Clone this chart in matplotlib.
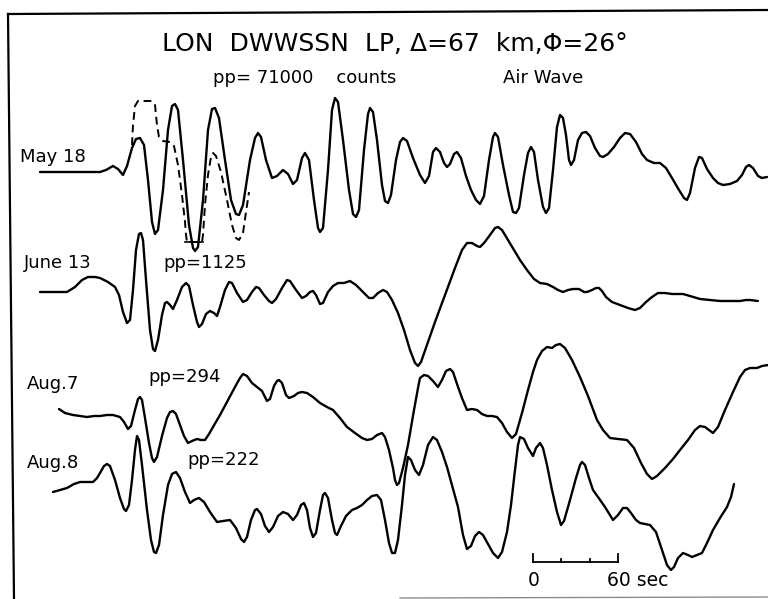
import matplotlib
matplotlib.use("Agg")
import matplotlib.pyplot as plt

may18_x = [40, 100, 106, 113, 118, 123, 127, 132, 136, 140, 144, 148, 152, 155, 158, 163, 168, 172, 175, 178,
           183, 189, 193, 195, 198, 203, 208, 212, 215, 219, 225, 231, 236, 239, 243, 250, 255, 258, 261, 266,
           272, 277, 283, 288, 293, 297, 302, 305, 309, 314, 318, 320, 323, 328, 332, 335, 338, 343, 349, 353,
           356, 359, 364, 368, 370, 373, 377, 382, 385, 388, 391, 396, 400, 403, 407, 413, 420, 425, 429, 433,
           436, 440, 444, 447, 450, 454, 457, 461, 466, 471, 476, 480, 484, 489, 493, 495, 498, 503, 509, 513,
           516, 519, 524, 528, 531, 534, 538, 543, 546, 549, 553, 557, 560, 563, 566, 569, 571, 574, 578, 582,
           586, 590, 595, 600, 603, 608, 614, 620, 625, 630, 636, 642, 647, 654, 660, 666, 672, 679, 684, 687,
           690, 695, 699, 702, 707, 713, 718, 723, 730, 737, 742, 746, 749, 753, 758, 762, 767]
may18_y = [172, 172, 170, 166, 169, 175, 166, 148, 139, 138, 145, 180, 222, 234, 230, 190, 130, 106, 104, 110,
           160, 225, 248, 251, 247, 200, 130, 109, 108, 118, 160, 200, 214, 215, 205, 160, 138, 133, 137, 160,
           178, 176, 170, 174, 184, 180, 158, 153, 160, 200, 228, 232, 228, 170, 110, 98, 102, 140, 190, 214,
           217, 210, 150, 114, 108, 112, 140, 185, 201, 203, 195, 160, 142, 138, 141, 158, 175, 183, 176, 152,
           148, 152, 163, 167, 164, 154, 152, 158, 176, 190, 200, 204, 196, 160, 137, 133, 137, 165, 195, 212,
           213, 208, 175, 153, 147, 152, 180, 207, 213, 208, 170, 127, 115, 118, 135, 160, 165, 160, 140, 133,
           132, 136, 148, 156, 157, 154, 147, 138, 133, 134, 142, 154, 160, 163, 163, 168, 178, 190, 198, 200,
           193, 168, 157, 158, 169, 178, 183, 185, 184, 181, 175, 167, 165, 168, 176, 178, 177]

# unclipped early part of May 18 (dashed)
may18d_x = [132, 133, 135, 138, 146, 152, 155, 157, 159, 163, 170, 174, 178, 182, 185, 186, 187, 202, 203,
            205, 208, 211, 213, 216, 221, 227, 232, 236, 239, 243, 246, 249]
may18d_y = [145, 125, 106, 101, 101, 101, 105, 125, 137, 141, 142, 146, 165, 195, 222, 235, 242, 242, 235,
            205, 175, 157, 153, 156, 172, 200, 225, 238, 240, 233, 212, 192]
clip_x = [185, 203]
clip_y = [242, 242]

jun13_x = [40, 67, 75, 82, 88, 95, 100, 108, 115, 119, 123, 127, 130, 133, 136, 139, 141, 143, 146, 150,
           153, 155, 158, 162, 165, 167, 170, 173, 177, 182, 186, 189, 193, 197, 199, 202, 206, 210, 214, 217,
           220, 225, 229, 232, 237, 243, 247, 252, 256, 259, 264, 269, 272, 276, 282, 287, 290, 296, 302, 306,
           310, 313, 316, 320, 323, 328, 333, 338, 344, 350, 356, 363, 369, 373, 378, 383, 387, 392, 398, 404,
           410, 415, 418, 421, 427, 435, 445, 455, 462, 467, 472, 477, 480, 484, 490, 495, 498, 502, 508, 514,
           520, 527, 534, 540, 547, 553, 558, 563, 568, 573, 579, 584, 587, 592, 596, 599, 602, 606, 612, 620,
           628, 635, 640, 646, 652, 658, 665, 672, 683, 690, 700, 710, 720, 730, 740, 746, 750, 758]
jun13_y = [292, 292, 287, 280, 277, 277, 278, 282, 287, 295, 312, 323, 320, 290, 250, 234, 233, 240, 280, 330,
           349, 351, 340, 315, 303, 302, 305, 309, 300, 287, 283, 286, 305, 322, 327, 324, 314, 311, 313, 316,
           307, 290, 282, 283, 293, 302, 300, 292, 287, 288, 295, 301, 303, 299, 288, 280, 281, 290, 298, 296,
           292, 291, 295, 304, 303, 292, 286, 283, 283, 281, 285, 292, 298, 298, 293, 290, 292, 300, 313, 330,
           350, 363, 366, 362, 345, 322, 295, 268, 250, 243, 243, 246, 247, 243, 235, 228, 227, 230, 240, 250,
           260, 270, 279, 283, 284, 287, 290, 292, 290, 289, 289, 292, 292, 290, 288, 288, 291, 297, 302, 305,
           308, 310, 308, 302, 297, 293, 293, 294, 294, 296, 299, 300, 301, 301, 301, 300, 300, 301]

aug7_x = [59, 65, 73, 80, 87, 94, 100, 107, 113, 120, 124, 128, 131, 135, 138, 140, 142, 145, 149, 152,
          154, 157, 162, 167, 170, 173, 176, 180, 184, 188, 192, 197, 201, 205, 209, 213, 220, 228, 235, 240,
          243, 247, 252, 257, 262, 267, 270, 274, 277, 279, 282, 286, 289, 294, 298, 302, 307, 313, 320, 327,
          333, 340, 347, 355, 362, 367, 372, 377, 382, 385, 389, 393, 395, 397, 399, 403, 408, 414, 418, 420,
          424, 428, 433, 438, 442, 446, 450, 453, 457, 462, 467, 472, 477, 482, 487, 492, 497, 502, 507, 512,
          516, 522, 528, 533, 537, 542, 547, 552, 556, 560, 565, 572, 580, 588, 597, 603, 610, 618, 627, 634,
          641, 647, 652, 657, 665, 673, 680, 688, 695, 700, 705, 713, 718, 725, 733, 740, 745, 750, 757, 762, 768]
aug7_y = [409, 413, 415, 416, 417, 416, 416, 415, 415, 417, 422, 429, 426, 410, 399, 397, 400, 418, 443, 458,
          462, 457, 436, 418, 412, 411, 414, 425, 436, 443, 441, 439, 440, 440, 434, 427, 415, 400, 387, 378,
          374, 376, 383, 387, 391, 401, 399, 386, 381, 380, 383, 395, 398, 396, 393, 392, 393, 397, 403, 407,
          410, 418, 427, 433, 438, 440, 439, 435, 433, 437, 450, 468, 480, 485, 483, 468, 445, 410, 388, 378,
          375, 376, 381, 387, 380, 371, 369, 372, 384, 398, 410, 409, 410, 414, 416, 416, 417, 423, 432, 438,
          434, 413, 390, 372, 360, 351, 347, 348, 345, 344, 348, 360, 377, 396, 420, 430, 438, 439, 440, 448,
          463, 474, 479, 476, 468, 459, 450, 440, 430, 426, 427, 433, 427, 410, 392, 377, 370, 368, 368, 366, 365]

aug8_x = [53, 60, 67, 74, 80, 87, 93, 97, 100, 104, 107, 110, 115, 120, 124, 126, 129, 132, 135, 137,
          139, 142, 147, 151, 154, 156, 159, 163, 168, 172, 176, 180, 185, 190, 194, 199, 204, 210, 217, 223,
          230, 236, 241, 244, 247, 251, 255, 257, 261, 265, 269, 273, 278, 283, 288, 293, 297, 301, 304, 307,
          310, 313, 316, 320, 323, 325, 328, 332, 335, 337, 341, 346, 352, 357, 362, 367, 372, 377, 381, 385,
          389, 392, 395, 398, 402, 405, 408, 411, 415, 419, 423, 428, 433, 437, 442, 447, 452, 458, 463, 467,
          471, 475, 479, 483, 488, 493, 498, 502, 507, 511, 515, 518, 520, 524, 528, 533, 536, 540, 543, 547,
          552, 557, 561, 564, 570, 576, 580, 582, 585, 589, 593, 598, 605, 613, 618, 623, 627, 631, 636, 640,
          645, 650, 656, 662, 667, 671, 674, 678, 683, 688, 692, 697, 702, 707, 713, 720, 727, 731, 734]
aug8_y = [492, 490, 488, 484, 482, 482, 482, 478, 473, 466, 464, 466, 480, 498, 509, 511, 505, 480, 450, 436,
          440, 465, 510, 540, 552, 553, 545, 515, 485, 474, 472, 478, 492, 503, 500, 498, 502, 512, 522, 521,
          520, 528, 539, 542, 537, 520, 510, 509, 514, 526, 532, 527, 516, 512, 514, 520, 515, 505, 503, 510,
          528, 537, 533, 510, 495, 493, 498, 520, 533, 535, 526, 516, 510, 508, 505, 500, 496, 495, 500, 520,
          543, 553, 553, 540, 505, 475, 457, 460, 470, 475, 465, 445, 437, 440, 452, 467, 485, 507, 535, 549,
          546, 536, 532, 535, 544, 553, 558, 552, 532, 505, 470, 445, 437, 439, 448, 456, 448, 443, 448, 465,
          490, 512, 525, 521, 500, 478, 465, 462, 465, 478, 490, 497, 507, 520, 515, 508, 508, 513, 520, 523,
          524, 525, 532, 550, 565, 570, 567, 558, 553, 555, 557, 555, 553, 543, 530, 518, 507, 497, 484]

traces = [(may18_x, may18_y), (jun13_x, jun13_y), (aug7_x, aug7_y), (aug8_x, aug8_y)]

# time scale bar: 0 .. 60 s with ticks every 20 s
bar_x0, bar_len = 533, 85
bar_secs = [0, 20, 40, 60]

labels = [("May 18", 20, 157), ("June 13", 24, 263), ("Aug.7", 27, 384), ("Aug.8", 27, 463)]
pp_labels = [("pp= 71000    counts", 213, 78), ("Air Wave", 503, 78), ("pp=1125", 163, 263),
             ("pp=294", 148, 377), ("pp=222", 187, 460)]

fig = plt.figure(figsize=(7.68, 5.99), dpi=100)
ax = fig.add_axes([0, 0, 1, 1])
ax.set_xlim(0, 768)
ax.set_ylim(599, 0)
ax.axis("off")

# frame
ax.plot([8, 768], [14, 10], color="black", lw=1.6)
ax.plot([8, 14], [14, 599], color="black", lw=1.6)
ax.plot([400, 768], [598, 597], color="0.55", lw=1.0)

for x, y in traces:
    ax.plot(x, y, color="black", lw=1.7, solid_joinstyle="round", solid_capstyle="round")
ax.plot(may18d_x, may18d_y, color="black", lw=1.4, linestyle=(0, (4, 2.5)))
ax.plot(clip_x, clip_y, color="black", lw=1.2)

ax.text(395, 44, "LON  DWWSSN  LP, \u0394=67  km,\u03a6=26\u00b0", ha="center", va="center", fontsize=18)
for txt, x, y in labels + pp_labels:
    ax.text(x, y, txt, ha="left", va="center", fontsize=13)

# scale bar
ys = 562
ax.plot([bar_x0, bar_x0 + bar_len], [ys, ys], color="black", lw=1.3)
for s in bar_secs:
    h = 8 if s in (0, 60) else 3
    xs = bar_x0 + bar_len * s / 60
    ax.plot([xs, xs], [ys, ys - h], color="black", lw=1.3)
ax.text(bar_x0 + 1, 581, "0", ha="center", va="center", fontsize=13.5)
ax.text(bar_x0 + bar_len - 11, 581, "60 sec", ha="left", va="center", fontsize=13.5)

fig.savefig("out.png", dpi=100)
